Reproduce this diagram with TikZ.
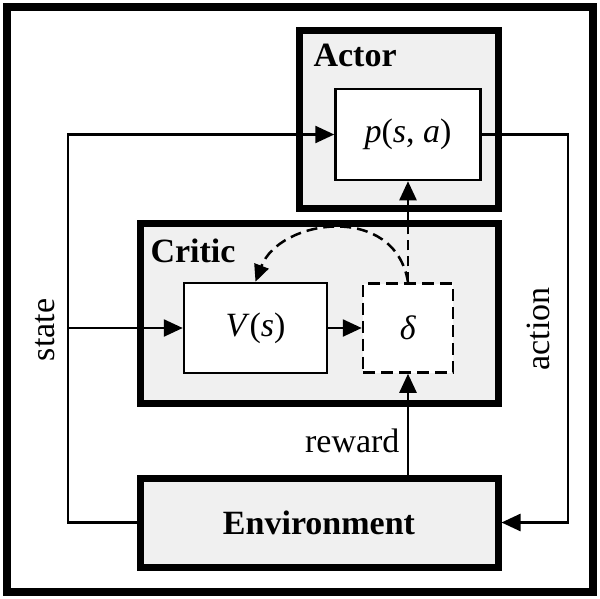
\documentclass[tikz,border=0pt]{standalone}
\usepackage{fontspec}
\setmainfont{Liberation Serif}
\usetikzlibrary{arrows.meta}
\begin{document}
\begin{tikzpicture}[x=1pt,y=-1pt,
  container/.style={draw, line width=7pt, fill=black!6, rectangle, inner sep=0pt},
  innerbox/.style={draw, line width=2.5pt, fill=white, rectangle, inner sep=0pt},
  conn/.style={line width=2.5pt},
  arr/.style={conn, -{Triangle[length=19pt,width=17pt]}},
  lbl/.style={font=\fontsize{34}{40}\selectfont},
  ttl/.style={font=\fontsize{34}{40}\selectfont\bfseries}
]
\useasboundingbox (0,0) rectangle (600,598);
\draw[line width=8pt] (7,7) rectangle (593,592);

\node[container, minimum width=199pt, minimum height=178pt] (actor) at (398.5,119) {};
\node[container, minimum width=358pt, minimum height=180pt] (critic) at (319,313) {};
\node[container, minimum width=358pt, minimum height=89pt, ttl] (env) at (319,522.5) {Environment};

\node[ttl, anchor=base west] (actorlbl) at (310,66) {Actor};
\node[ttl, anchor=base west] (criticlbl) at (147,262) {Critic};

\node[innerbox, minimum width=145pt, minimum height=91pt, lbl] (p) at (408,134.5) {\textit{p}(\textit{s}, \textit{a})};
\node[innerbox, minimum width=143pt, minimum height=90pt, lbl] (v) at (255.5,328) {\textit{V}(\textit{s})};
\node[innerbox, dash pattern=on 12pt off 6pt, minimum width=90pt, minimum height=89pt, lbl] (d) at (408,328) {\textit{δ}};

\coordinate (sx) at (68,328);
\coordinate (ax) at (568,328);
\draw[conn] (env.west) -| (sx);
\draw[arr] (sx) |- (p.west);
\draw[arr] (sx) -- (v.west);
\draw[conn] (p.east) -| (ax);
\draw[arr] (ax) |- (env.east);
\draw[arr] (v.east) -- (d.west);
\draw[arr] (d.south |- env.north) -- (d.south);
\coordinate (ct) at (d.north |- critic.north);
\draw[conn, dash pattern=on 10pt off 6pt] (d.north) -- (ct);
\draw[arr] (ct) -- (p.south);
\draw[conn, dash pattern=on 11pt off 6pt, -{Triangle[length=17pt,width=15pt]}] (d.north) .. controls +(-13,-80) and +(24,-63) .. (v.north);

\node[lbl, anchor=base east] (rew) at (403,452) {reward};
\node[lbl, rotate=90] (st) at (45.5,330) {state};
\node[lbl, rotate=90] (act) at (538.5,329) {action};
\end{tikzpicture}
\end{document}
